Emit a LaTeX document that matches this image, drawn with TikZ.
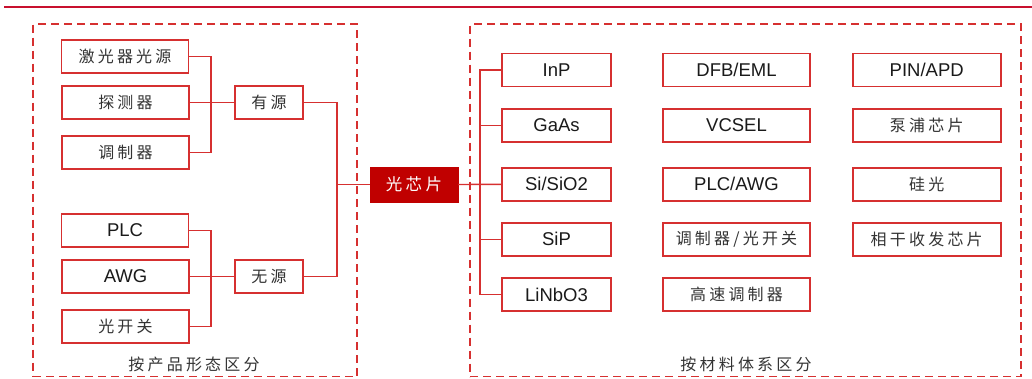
\documentclass[tikz,border=0pt]{standalone}
\usepackage{fontspec}
\setmainfont{Liberation Sans}
\newfontfamily\cjk{Noto Sans CJK SC}[LetterSpace=20]
\definecolor{boxred}{HTML}{D63030}
\definecolor{chipred}{HTML}{C00000}
\definecolor{topred}{HTML}{C8102E}
\definecolor{txt}{HTML}{1A1A1A}
\definecolor{cjktxt}{HTML}{333333}
\tikzset{
  box/.style={draw=boxred, line width=1.8pt, fill=white, inner sep=0pt, minimum height=33pt, text=txt, font=\fontsize{18.5}{20}\selectfont},
  cbox/.style={box, text=cjktxt, font=\cjk\fontsize{16}{18}\selectfont},
  chipbox/.style={fill=chipred, draw=chipred, inner sep=0pt, minimum width=88pt, minimum height=35.5pt, text=white, font=\cjk\fontsize{16.5}{18}\selectfont},
  group/.style={draw=boxred, line width=1.4pt, dash pattern=on 8pt off 5pt, inner sep=0pt},
  grplabel/.style={text=cjktxt, font=\cjk\fontsize{16}{18}\selectfont, inner sep=0pt},
  link/.style={draw=boxred, line width=1.4pt},
}
\begin{document}
\begin{tikzpicture}[x=1pt,y=-1pt]
\useasboundingbox (0,0) rectangle (1032,378);
\draw[topred, line width=2.2pt] (4,6.8) -- (1032,6.8);
% group frames
\node[group, minimum width=324pt, minimum height=352.5pt] (gleft) at (195,200.3) {};
\node[group, minimum width=551pt, minimum height=352.5pt] (gright) at (745.5,200.3) {};
\node[grplabel] (lblL) at (194,364) {按产品形态区分};
\node[grplabel] (lblR) at (746,364) {按材料体系区分};
% connectors (drawn first, boxes sit on top)
\coordinate (jA) at (211,102.3);
\coordinate (jB) at (211,276.2);
\coordinate (jC) at (337,184.5);
\coordinate (jD) at (480,184.3);
% left boxes
\node[cbox, minimum width=127pt] (laser) at (125,56.7) {激光器光源};
\node[cbox, minimum width=127pt] (det) at (125.5,102.3) {探测器};
\node[cbox, minimum width=127pt] (mod) at (125.5,152.5) {调制器};
\node[box, minimum width=127pt] (plc) at (125,230.3) {PLC};
\node[box, minimum width=127pt] (awg) at (125.5,276.2) {AWG};
\node[cbox, minimum width=127pt] (osw) at (125.5,326.2) {光开关};
\node[cbox, minimum width=68pt] (active) at (269,102.3) {有源};
\node[cbox, minimum width=68pt] (passive) at (269,276.2) {无源};
\node[chipbox] (chip) at (414,184.5) {光芯片};
% column 1
\node[box, minimum width=108.5pt] (inp) at (556.5,70) {InP};
\node[box, minimum width=108.5pt] (gaas) at (556.5,125.3) {GaAs};
\node[box, minimum width=108.5pt] (si) at (556.5,184.3) {Si/SiO2};
\node[box, minimum width=108.5pt] (sip) at (556.5,239.3) {SiP};
\node[box, minimum width=108.5pt] (linbo) at (556.5,294.7) {LiNbO3};
% column 2
\node[box, minimum width=147.5pt] (dfb) at (736.5,70) {DFB/EML};
\node[box, minimum width=147.5pt] (vcsel) at (736.5,125.3) {VCSEL};
\node[box, minimum width=147.5pt] (plcawg) at (736.5,184.3) {PLC/AWG};
\node[cbox, minimum width=147.5pt] (modsw) at (736.5,239.3) {调制器/光开关};
\node[cbox, minimum width=147.5pt] (hsmod) at (736.5,294.7) {高速调制器};
% column 3
\node[box, minimum width=148pt] (pin) at (926.7,70) {PIN/APD};
\node[cbox, minimum width=148pt] (pump) at (926.7,125.3) {泵浦芯片};
\node[cbox, minimum width=148pt] (sipho) at (926.7,184.3) {硅光};
\node[cbox, minimum width=148pt] (coh) at (926.7,239.3) {相干收发芯片};
% connectors
\draw[link] (laser.east) -| (jA) |- (mod.east);
\draw[link] (det.east) -- (active.west);
\draw[link] (plc.east) -| (jB) |- (osw.east);
\draw[link] (awg.east) -- (passive.west);
\draw[link] (active.east) -| (jC) |- (passive.east);
\draw[link] (jC) -- (chip.west);
\draw[link] (inp.west) -| (jD) |- (linbo.west);
\draw[link] (chip.east) -- (si.west);
\draw[link] (gaas.west) -- (gaas.west -| jD);
\draw[link] (sip.west) -- (sip.west -| jD);
\end{tikzpicture}
\end{document}
